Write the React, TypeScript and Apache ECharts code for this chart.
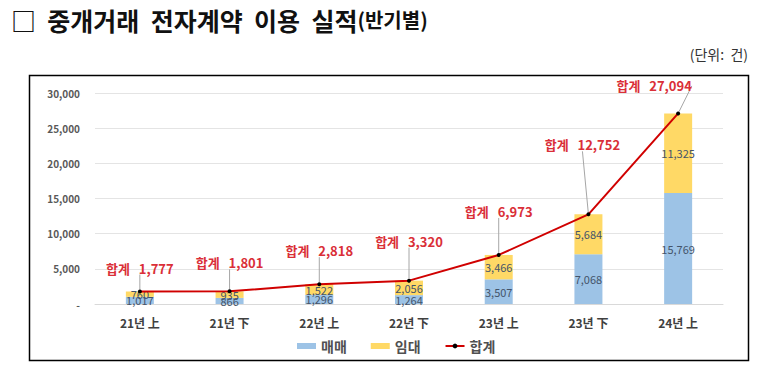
import React, { useEffect, useRef } from "react";
import * as echarts from "echarts";

const categories = ["21년 上", "21년 下", "22년 上", "22년 下", "23년 上", "23년 下", "24년 上"];
const maemae = [1017, 866, 1296, 1264, 3507, 7068, 15769];
const imdae = [760, 935, 1522, 2056, 3466, 5684, 11325];
const total = [1777, 1801, 2818, 3320, 6973, 12752, 27094];
const labelShift = [
  [0, -11],
  [0, -16],
  [0, -21],
  [0, -27],
  [0, -31],
  [-6, -57],
  [-24, -15],
];

const fmt = (v: number) => v.toLocaleString("en-US");
const FONT = "'Noto Sans CJK KR', 'Noto Sans', sans-serif";

export default function App() {
  const ref = useRef<HTMLDivElement>(null);
  useEffect(() => {
    if (!ref.current) return;
    const chart = echarts.init(ref.current, null, { renderer: "svg" });
    chart.setOption({
      animation: false,
      backgroundColor: "#ffffff",
      textStyle: { fontFamily: FONT },
      graphic: [
        {
          type: "text",
          left: 11,
          top: 7,
          style: {
            text: "{a|□  중개거래  전자계약  이용  실적}{b|(반기별)}",
            rich: {
              a: { fontSize: 25, fontWeight: "bold", fill: "#111", fontFamily: FONT },
              b: { fontSize: 20, fontWeight: "bold", fill: "#111", fontFamily: FONT },
            },
          },
        },
        {
          type: "text",
          right: 17,
          top: 47,
          style: { text: "(단위:  건)", fontSize: 14, fill: "#333", fontFamily: FONT },
        },
        {
          type: "rect",
          shape: { x: 29.5, y: 75.5, width: 719, height: 285 },
          style: { fill: "none", stroke: "#000", lineWidth: 1.5 },
          silent: true,
        },
      ],
      legend: {
        bottom: 17,
        left: 292,
        itemGap: 24,
        itemWidth: 19,
        itemHeight: 6,
        textStyle: { fontSize: 14, fontWeight: "bold", color: "#505050", fontFamily: FONT },
        data: [
          { name: "매매", icon: "rect" },
          { name: "임대", icon: "rect" },
          { name: "합계" },
        ],
      },
      grid: { left: 95, right: 42, top: 93, bottom: 71 },
      xAxis: {
        type: "category",
        data: categories,
        axisLine: { lineStyle: { color: "#D9D9D9" } },
        axisTick: { show: false },
        axisLabel: { fontSize: 12, fontWeight: "bold", color: "#404040", margin: 12, fontFamily: FONT },
      },
      yAxis: {
        type: "value",
        min: 0,
        max: 30000,
        interval: 5000,
        axisLine: { show: false },
        axisTick: { show: false },
        splitLine: { lineStyle: { color: "#E4E4E4" } },
        axisLabel: {
          fontSize: 10,
          fontWeight: "bold",
          color: "#595959",
          margin: 15,
          formatter: (v: number) => (v === 0 ? "-" : fmt(v)),
        },
      },
      series: [
        {
          name: "매매",
          type: "bar",
          stack: "s",
          barWidth: 28,
          data: maemae,
          itemStyle: { color: "#9DC3E6" },
          label: { show: true, position: "inside", fontSize: 11, color: "#44546A", formatter: (p: any) => fmt(p.value) },
        },
        {
          name: "임대",
          type: "bar",
          stack: "s",
          barWidth: 28,
          data: imdae,
          itemStyle: { color: "#FFD966" },
          label: { show: true, position: "inside", fontSize: 11, color: "#44546A", formatter: (p: any) => fmt(p.value) },
        },
        {
          name: "합계",
          type: "line",
          data: total,
          symbol: "circle",
          symbolSize: 4,
          itemStyle: { color: "#000" },
          lineStyle: { color: "#D00000", width: 2 },
          label: {
            show: true,
            position: "top",
            distance: 4,
            color: "#DA2F38",
            fontSize: 13,
            fontWeight: "bold",
            formatter: (p: any) => "합계   " + fmt(p.value),
          },
          labelLine: { show: true, lineStyle: { color: "#A6A6A6", width: 1 } },
          labelLayout: (params: any) => {
            const s = labelShift[params.dataIndex];
            return { dx: s[0], dy: s[1] };
          },
        },
      ],
    });
    return () => chart.dispose();
  }, []);
  return (
    <div
      ref={ref}
      style={{ position: "fixed", left: 0, top: 0, width: 765, height: 375 }}
    />
  );
}
